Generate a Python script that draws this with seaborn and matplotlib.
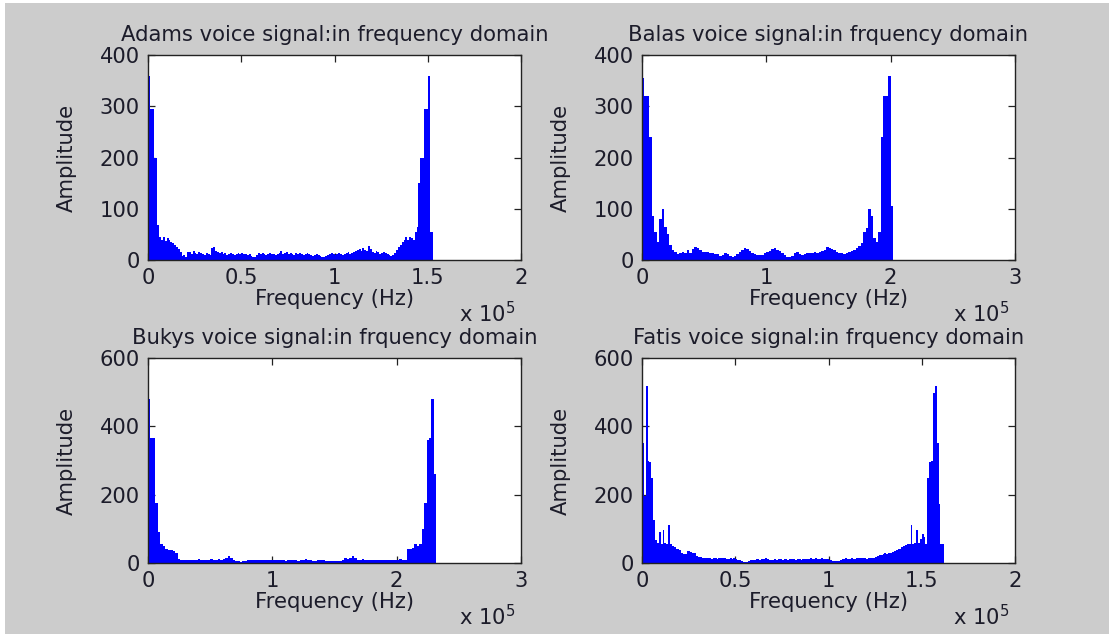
import numpy as np
import pandas as pd
import matplotlib
matplotlib.use("Agg")
import matplotlib.pyplot as plt
from matplotlib.patches import Rectangle
import seaborn as sns

# ---- spectrum magnitudes (one value per frequency bin) ----
adams_binwidth = 1000.0
adams_amp = [
    360, 295, 295, 200, 200, 68, 45, 40, 45, 38,
    42, 40, 36, 34, 30, 26, 22, 16, 8, 10,
    6, 15, 16, 12, 17, 14, 12, 16, 14, 12,
    10, 14, 12, 10, 24, 26, 18, 16, 14, 15,
    12, 14, 10, 12, 14, 12, 10, 12, 14, 12,
    14, 12, 12, 10, 12, 8, 6, 5, 10, 14,
    12, 14, 12, 10, 12, 14, 12, 12, 10, 12,
    14, 18, 12, 14, 16, 12, 14, 12, 10, 14,
    12, 14, 12, 10, 12, 14, 12, 10, 8, 10,
    12, 10, 8, 6, 5, 8, 10, 12, 14, 12,
    10, 12, 14, 12, 10, 12, 14, 16, 12, 14,
    16, 18, 20, 22, 18, 24, 20, 18, 28, 22,
    16, 14, 18, 16, 12, 14, 16, 14, 12, 10,
    8, 10, 14, 20, 25, 30, 35, 40, 44, 40,
    45, 42, 40, 55, 65, 150, 200, 200, 295, 295,
    360, 55, 55,
]

balas_binwidth = 2000.0
balas_amp = [
    355, 320, 320, 240, 85, 55, 35, 80, 100, 65,
    50, 30, 20, 15, 12, 14, 16, 14, 20, 14,
    22, 26, 24, 20, 16, 16, 16, 14, 14, 12,
    12, 8, 10, 14, 12, 8, 6, 8, 12, 16,
    20, 24, 22, 18, 14, 12, 10, 10, 10, 14,
    16, 18, 22, 24, 20, 18, 14, 10, 6, 6,
    8, 14, 16, 12, 10, 12, 14, 14, 14, 16,
    14, 16, 18, 20, 26, 24, 22, 20, 16, 14,
    14, 12, 14, 16, 18, 20, 24, 28, 33, 55,
    62, 100, 85, 42, 35, 55, 240, 320, 320, 359,
    105,
]

bukys_binwidth = 2000.0
bukys_amp = [
    480, 365, 365, 175, 90, 55, 50, 40, 38, 38,
    36, 30, 12, 10, 8, 10, 10, 8, 10, 10,
    12, 10, 10, 8, 10, 12, 10, 10, 12, 10,
    12, 16, 20, 14, 8, 5, 5, 4, 5, 6,
    8, 10, 10, 10, 10, 8, 10, 8, 10, 10,
    8, 8, 10, 10, 8, 6, 8, 8, 10, 8,
    6, 8, 10, 12, 10, 8, 6, 6, 8, 8,
    8, 6, 6, 5, 5, 5, 5, 6, 10, 14,
    12, 16, 20, 14, 10, 10, 12, 10, 10, 8,
    10, 10, 10, 8, 10, 10, 8, 10, 10, 8,
    10, 12, 10, 10, 40, 40, 45, 55, 50, 55,
    100, 175, 360, 365, 480, 260,
]

fatis_binwidth = 1000.0
fatis_amp = [
    350, 195, 517, 300, 297, 248, 125, 67, 60, 91,
    57, 96, 60, 55, 110, 57, 50, 48, 42, 40,
    37, 30, 25, 25, 35, 35, 33, 30, 28, 20,
    18, 18, 16, 15, 14, 15, 14, 13, 14, 15,
    13, 14, 15, 16, 14, 13, 12, 14, 13, 15,
    12, 10, 8, 5, 4, 3, 4, 5, 8, 10,
    10, 11, 12, 10, 11, 12, 16, 12, 10, 9,
    10, 11, 10, 12, 11, 10, 11, 12, 10, 11,
    12, 11, 10, 12, 11, 10, 12, 11, 12, 13,
    14, 12, 13, 14, 12, 13, 14, 12, 13, 12,
    10, 8, 6, 5, 5, 6, 10, 12, 13, 14,
    13, 12, 14, 13, 12, 14, 16, 15, 16, 14,
    13, 14, 15, 14, 16, 18, 20, 22, 24, 26,
    28, 26, 28, 30, 32, 35, 38, 40, 42, 47,
    50, 52, 57, 57, 110, 55, 60, 96, 60, 70,
    86, 75, 57, 248, 297, 300, 497, 517, 350, 174,
    57, 57,
]

titles = [
    "Adams voice signal:in frequency domain",
    "Balas voice signal:in frquency domain",
    "Bukys voice signal:in frquency domain",
    "Fatis voice signal:in frquency domain",
]

# axis ticks (x ticks in units of 1e5 Hz)
xticks_half = [0, 0.5, 1, 1.5, 2]
xticklabels_half = ["0", "0.5", "1", "1.5", "2"]
xticks_one = [0, 1, 2, 3]
xticklabels_one = ["0", "1", "2", "3"]
yticks_400 = [0, 100, 200, 300, 400]
yticks_600 = [0, 200, 400, 600]

panels = [
    (titles[0], adams_amp, adams_binwidth, xticks_half, xticklabels_half, yticks_400),
    (titles[1], balas_amp, balas_binwidth, xticks_one, xticklabels_one, yticks_400),
    (titles[2], bukys_amp, bukys_binwidth, xticks_one, xticklabels_one, yticks_600),
    (titles[3], fatis_amp, fatis_binwidth, xticks_half, xticklabels_half, yticks_600),
]

# ---- styling ----
sns.set_theme(style="white")
plt.rcParams["font.family"] = ["DejaVu Sans"]
plt.rcParams["mathtext.default"] = "regular"

W, H = 1109, 638
TEXT = "#1c1c2a"
BG = "#cccccc"
FS = 15.2

fig = plt.figure(figsize=(W / 100, H / 100), dpi=100, facecolor="white")
fig.patches.append(Rectangle((5 / W, 4 / H), 1 - 5 / W, 1 - 7 / H,
                             transform=fig.transFigure, facecolor=BG,
                             edgecolor="none", zorder=-10))

# axes boxes in pixels: left, top, right, bottom
boxes = [
    (148, 55, 521, 260),
    (642, 55, 1015, 260),
    (148, 358, 521, 563),
    (642, 358, 1015, 563),
]

for (title, amp, bw, xt, xtl, yt), (l, t, r, b) in zip(panels, boxes):
    ax = fig.add_axes([l / W, 1 - b / H, (r - l) / W, (b - t) / H])
    ax.set_facecolor("white")

    n = len(amp)
    df = pd.DataFrame({
        "freq": (np.arange(n) + 0.5) * bw,
        "amp": amp,
    })
    sns.histplot(data=df, x="freq", weights="amp", binwidth=bw,
                 binrange=(0, n * bw), element="step", fill=True,
                 color="#0000ff", alpha=1.0, linewidth=0, ax=ax)

    ax.set_xlim(xt[0] * 1e5, xt[-1] * 1e5)
    ax.set_ylim(yt[0], yt[-1])
    ax.set_xticks([v * 1e5 for v in xt])
    ax.set_xticklabels(xtl)
    ax.set_yticks(yt)
    ax.set_yticklabels([str(v) for v in yt])

    ax.tick_params(direction="in", length=5, width=0.9, color="#222222",
                   bottom=True, left=True, top=True, right=True,
                   labelsize=FS, labelcolor=TEXT, pad=6)
    for s in ax.spines.values():
        s.set_color("#222222")
        s.set_linewidth(1.0)
        s.set_visible(True)

    ax.set_title(title, fontsize=FS, color=TEXT, pad=10)
    ax.set_xlabel("Frequency (Hz)", fontsize=FS, color=TEXT)
    ax.set_ylabel("Amplitude", fontsize=FS, color=TEXT)
    ax.xaxis.set_label_coords(0.5, -0.14)
    ax.yaxis.set_label_coords(-0.19, 0.5)

    ax.text(0.984, -0.302, r"x 10$^{5}$", transform=ax.transAxes,
            ha="right", va="baseline", fontsize=FS, color=TEXT)

fig.savefig("out.png", dpi=100, facecolor=fig.get_facecolor())
